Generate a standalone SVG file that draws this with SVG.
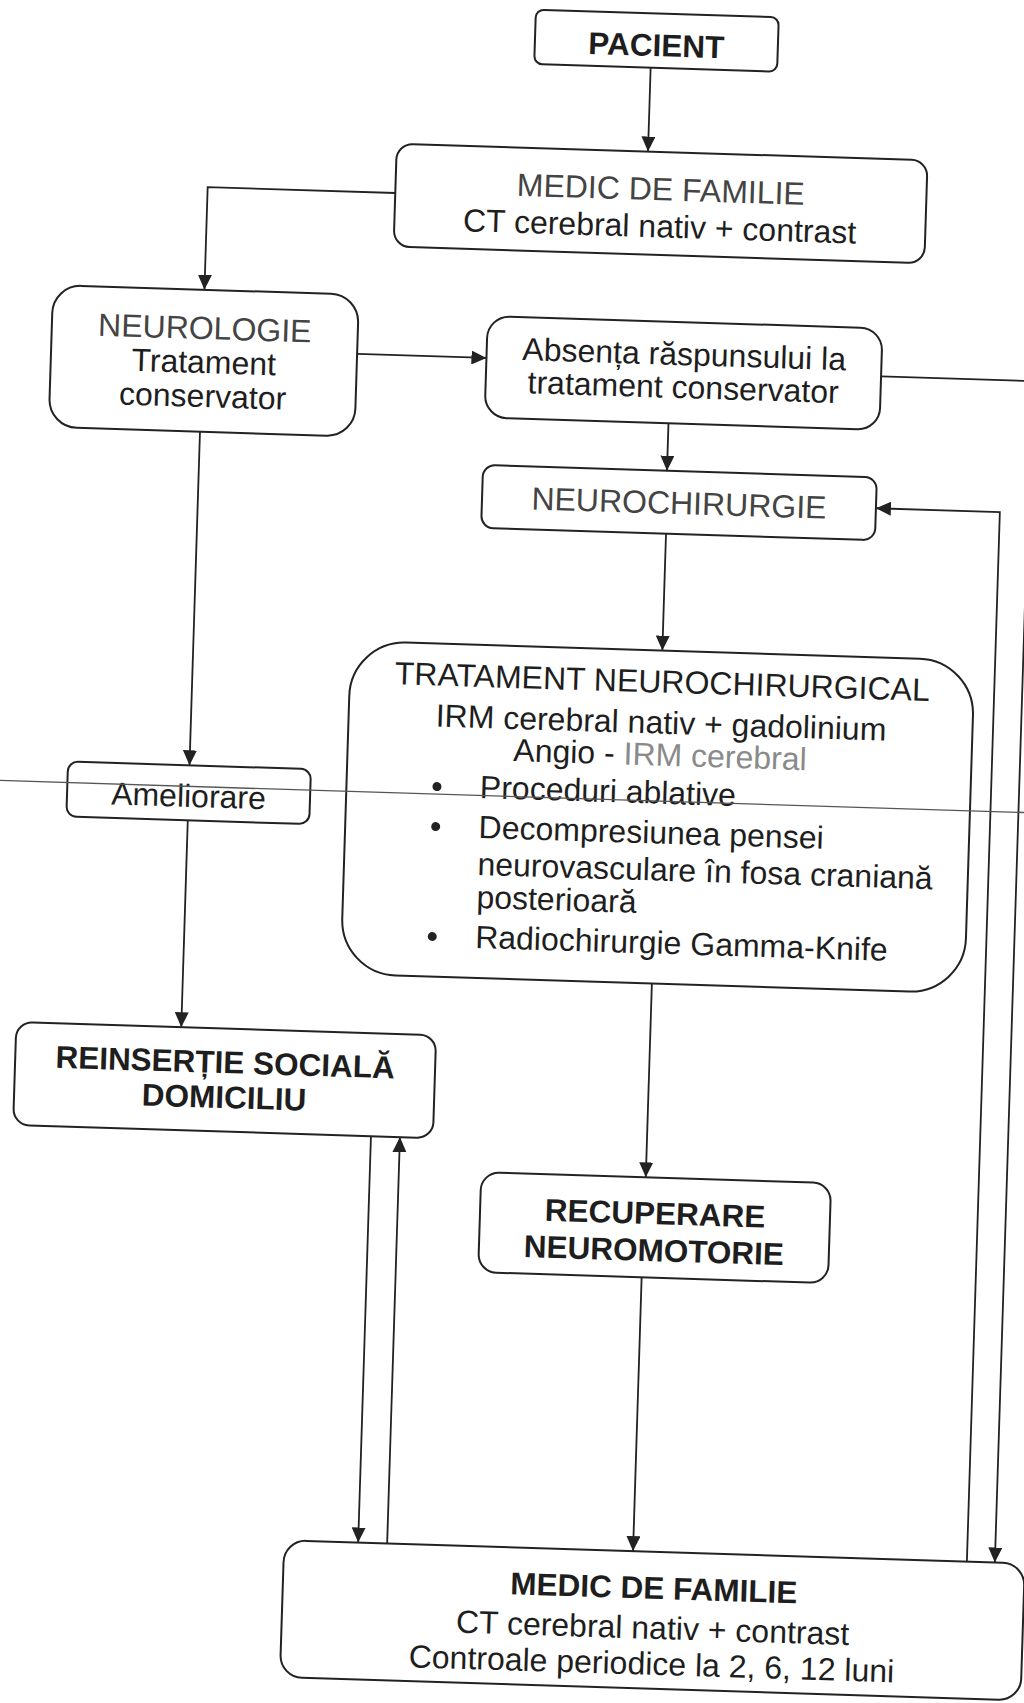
<svg xmlns="http://www.w3.org/2000/svg" width="1024" height="1703" viewBox="0 0 1024 1703">
  <defs>
    <marker id="arrow" markerUnits="userSpaceOnUse" markerWidth="15" markerHeight="14" refX="15" refY="7" orient="auto">
      <path d="M0,0 L15,7 L0,14 z" fill="#222"/>
    </marker>
    <style>
      .box { fill: none; stroke: #222; stroke-width: 2; }
      .link { fill: none; stroke: #222; stroke-width: 1.8; }
      .arr { marker-end: url(#arrow); }
      text { font-family: "Liberation Sans", Arial, sans-serif; font-size: 32px; fill: #1e1e1e; text-anchor: middle; }
      .b { font-weight: bold; font-size: 31.5px; }
      .left { text-anchor: start; }
      .faded { fill: #444444; }
      .pale { fill: #8a8a8a; }
      .dot { fill: #222; }
    </style>
  </defs>
  <rect width="1024" height="1703" fill="#ffffff"/>

  <!-- whole sheet sits slightly tilted -->
  <g transform="rotate(1.8 512 850)">

    <g id="connectors">
      <path class="link arr" d="M626,63.7 V147.6"/>
      <path class="link arr" d="M374.7,197 H187 V299.7"/>
      <path class="link arr" d="M341.6,359 H471"/>
      <path class="link arr" d="M866,365 H1017 V1547"/>
      <path class="link arr" d="M655,418.6 V466"/>
      <path class="link arr" d="M989,1547 V497 H865"/>
      <path class="link arr" d="M656,529 V646"/>
      <path class="link arr" d="M656,979 V1173"/>
      <path class="link arr" d="M655,1273 V1547"/>
      <path class="link arr" d="M187,441.7 V775.5"/>
      <path class="link arr" d="M187,830.5 V1037.5"/>
      <path class="link arr" d="M380,1140.5 V1547"/>
      <path class="link arr" d="M409,1547 V1140.5"/>
    </g>

    <g id="pacient">
      <rect class="box" x="509.5" y="9.3" width="243" height="54.4" rx="8"/>
      <text class="b" x="631" y="52">PACIENT</text>
    </g>

    <g id="medic-familie-1">
      <rect class="box" x="374.7" y="147.6" width="531" height="103" rx="16"/>
      <text class="faded" x="640" y="196">MEDIC DE FAMILIE</text>
      <text x="640" y="233">CT cerebral nativ + contrast</text>
    </g>

    <g id="neurologie">
      <rect class="box" x="35.6" y="299.7" width="306" height="142" rx="28"/>
      <text class="faded" x="188.6" y="349">NEUROLOGIE</text>
      <text x="188.6" y="383">Tratament</text>
      <text x="188.6" y="417">conservator</text>
    </g>

    <g id="absenta-raspuns">
      <rect class="box" x="471" y="317" width="395" height="101.6" rx="22"/>
      <text x="668.6" y="360">Absența răspunsului la</text>
      <text x="668.6" y="393">tratament conservator</text>
    </g>

    <g id="neurochirurgie">
      <rect class="box" x="471" y="466" width="394" height="63" rx="12"/>
      <text class="faded" x="668" y="509">NEUROCHIRURGIE</text>
    </g>

    <g id="tratament-neurochirurgical">
      <rect class="box" x="344.5" y="646" width="624" height="333" rx="55"/>
      <text x="657" y="688">TRATAMENT NEUROCHIRURGICAL</text>
      <text x="657" y="729">IRM cerebral nativ + gadolinium</text>
      <text x="657" y="761">Angio - <tspan class="pale">IRM cerebral</tspan></text>
      <circle class="dot" cx="435" cy="789" r="4.5"/>
      <text class="left" x="478" y="799">Proceduri ablative</text>
      <circle class="dot" cx="435" cy="829" r="4.5"/>
      <text class="left" x="478" y="839">Decompresiunea pensei</text>
      <text class="left" x="478" y="876">neurovasculare în fosa craniană</text>
      <text class="left" x="478" y="909">posterioară</text>
      <circle class="dot" cx="435" cy="939" r="4.5"/>
      <text class="left" x="478" y="949">Radiochirurgie Gamma-Knife</text>
    </g>

    <g id="ameliorare">
      <rect class="box" x="65.5" y="775.5" width="243" height="55" rx="10"/>
      <text x="187" y="817">Ameliorare</text>
    </g>

    <g id="reinsertie">
      <rect class="box" x="22" y="1037.5" width="420" height="103" rx="16"/>
      <text class="b" x="232" y="1082">REINSERȚIE SOCIALĂ</text>
      <text class="b" x="232" y="1117">DOMICILIU</text>
    </g>

    <g id="recuperare">
      <rect class="box" x="491.4" y="1173" width="350" height="100" rx="18"/>
      <text class="b" x="666.4" y="1219.5">RECUPERARE</text>
      <text class="b" x="666.4" y="1256.5">NEUROMOTORIE</text>
    </g>

    <g id="medic-familie-2">
      <rect class="box" x="306" y="1547" width="741" height="137" rx="22"/>
      <text class="b" x="677" y="1594">MEDIC DE FAMILIE</text>
      <text x="677" y="1634">CT cerebral nativ + contrast</text>
      <text x="677" y="1670">Controale periodice la 2, 6, 12 luni</text>
    </g>

    <!-- printed rule crossing the sheet -->
    <g id="page-mark">
      <path d="M-40,796.5 H1080" fill="none" stroke="#555" stroke-width="1.4"/>
    </g>
  </g>
</svg>
